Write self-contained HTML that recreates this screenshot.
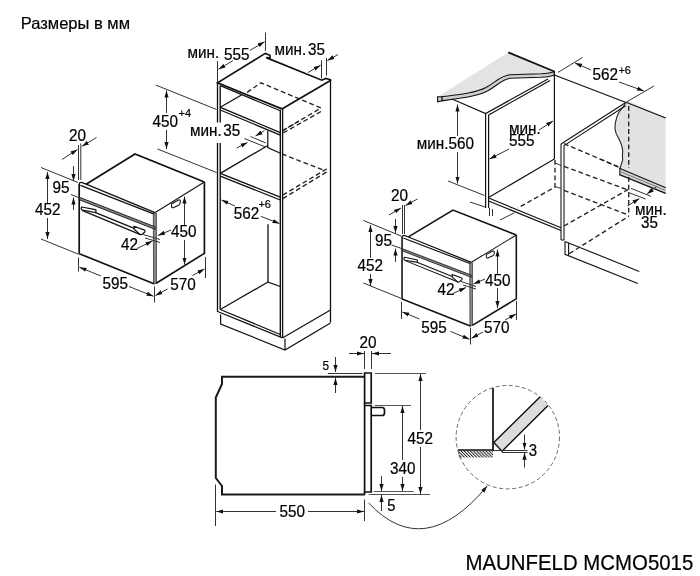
<!DOCTYPE html>
<html><head><meta charset="utf-8"><style>
html,body{margin:0;padding:0;background:#fff;width:700px;height:576px;overflow:hidden;}
svg{display:block;filter:grayscale(1) blur(0.3px);}
text{font-family:"Liberation Sans",sans-serif;fill:#000;font-size:15.3px;stroke:#000;stroke-width:0.2;}
.o{fill:none;stroke:#111;stroke-width:1.7;stroke-linejoin:miter;}
.t{fill:none;stroke:#1a1a1a;stroke-width:2;}
.m{stroke-width:1.2;}
.d{fill:none;stroke:#333;stroke-width:1;}
.g{fill:none;stroke:#555;stroke-width:1;}
.dash{fill:none;stroke:#222;stroke-width:1.35;stroke-dasharray:4.8 2.9;}
</style></head><body>
<svg width="700" height="576" viewBox="0 0 700 576">
<defs>
<marker id="a" viewBox="0 0 10 6" refX="10" refY="3" markerWidth="7" markerHeight="5.4" orient="auto" markerUnits="userSpaceOnUse"><path d="M0,0 L10,3 L0,6 z" fill="#111"/></marker>
<pattern id="hatch" patternUnits="userSpaceOnUse" width="2.2" height="2.2" patternTransform="rotate(-45)"><line x1="0.5" y1="0" x2="0.5" y2="2.2" stroke="#222" stroke-width="1"/></pattern>
<g id="oven">
  <!-- front-right glass edge strip -->
  <path d="M153.3,212.9 L156.4,213.2 L156.4,283.2 L153.6,284 Z" fill="#8a8a8a" stroke="#333" stroke-width="0.8"/>
  <!-- front face -->
  <path class="o" style="stroke-width:1.4" d="M155,212.6 L86.1,184.2 L81.5,182.4 Q79.3,182.2 79.2,184.5"/>
  <path class="o" d="M79.2,184 L79.2,253.7 L153.9,283.8"/>
  <path class="o" style="stroke-width:1.3" d="M80.5,185.3 L153.5,213.9"/>
  <!-- top -->
  <path class="o" d="M86.1,184.2 L135,154 L204.4,182"/>
  <path class="o" style="stroke-width:1.1" d="M204.4,182 L155.2,212.5"/>
  <!-- side -->
  <path class="o" d="M204.4,182 L204.4,253.4 L156.2,283.2"/>
  <!-- control panel bottom -->
  <path d="M79.2,197.2 L155,226.8 L155,229.3 L79.2,199.7 Z" fill="#888" stroke="#111" stroke-width="0.9"/>
  <!-- handle -->
  <path class="o" style="stroke-width:1.2" d="M81.8,207 L95.2,209.6 Q96.4,210 96,211 L95.6,212.6 L82.4,210.2 Q81,209.6 81.2,208.4 Z"/>
  <path class="o" style="stroke-width:1.2" d="M82,210.4 L140.5,234.6 M95.6,212.6 L134.2,228.4"/>
  <path class="o" style="stroke-width:1.2" d="M134,226.3 L144,229.9 Q145.5,230.6 144.8,232 L142,234.3 Q141,235 140,234.5 L134.2,229.2 Z"/>
  <!-- side recess -->
  <path class="o" style="stroke-width:1.1" d="M171.5,204 L178.5,200 Q180.5,199.5 180.3,201.5 L180,203.5 Q179.8,204.7 178.6,205.3 L173.2,207.7 Q171.8,208.1 171.6,206.9 Z"/>
</g>
</defs>

<!-- Title -->
<text transform="translate(20.8,29.3) scale(1,1.0)" style="font-size:16.5px">Размеры в мм</text>

<!-- ===== Oven A ===== -->
<use href="#oven"/>
<!-- dims A -->
<text transform="translate(69,141) scale(1,1.1)">20</text>
<path class="d" d="M78.5,145 L78.5,180 M80.8,143.5 L80.8,180"/>
<line class="d" x1="62" y1="159.5" x2="77.5" y2="149.5" marker-end="url(#a)"/>
<line class="d" x1="96.5" y1="137.5" x2="82" y2="146.3" marker-end="url(#a)"/>
<text transform="translate(52.5,192.5) scale(1,1.1)">95</text>
<line class="d" x1="73.5" y1="166" x2="73.5" y2="181" marker-end="url(#a)"/>
<line class="d" x1="73.5" y1="210" x2="73.5" y2="197.5" marker-end="url(#a)"/>
<path class="d" d="M41,167.5 L78,182.5 M71,194.5 L78.5,197.5"/>
<text transform="translate(35,215) scale(1,1.1)">452</text>
<line class="d" x1="47.5" y1="203" x2="47.5" y2="172" marker-end="url(#a)"/>
<line class="d" x1="47.5" y1="218" x2="47.5" y2="239" marker-end="url(#a)"/>
<path class="d" d="M41,239 L78,254"/>
<text transform="translate(102.5,288.7) scale(1,1.1)">595</text>
<line class="d" x1="101" y1="276" x2="79.5" y2="267.3" marker-end="url(#a)"/>
<line class="d" x1="129" y1="286.5" x2="153.5" y2="296.3" marker-end="url(#a)"/>
<path class="d" d="M78.5,257.5 L78.5,271.5 M154.5,286.5 L154.5,302.5"/>
<text transform="translate(170.3,290) scale(1,1.1)">570</text>
<line class="d" x1="167.5" y1="289" x2="155.5" y2="295.5" marker-end="url(#a)"/>
<line class="d" x1="192.5" y1="275.5" x2="204.5" y2="269" marker-end="url(#a)"/>
<path class="d" d="M205.5,257 L205.5,278"/>
<text transform="translate(171,237.3) scale(1,1.1)">450</text>
<line class="d" x1="184.5" y1="225" x2="184.5" y2="196.5" marker-end="url(#a)"/>
<line class="d" x1="184.5" y1="240" x2="184.5" y2="264.5" marker-end="url(#a)"/>
<line class="d" x1="171" y1="230" x2="158" y2="235.5" marker-end="url(#a)"/>
<text transform="translate(121,250) scale(1,1.1)">42</text>
<line class="d" x1="137" y1="248.5" x2="152.5" y2="241" marker-end="url(#a)"/>
<path class="d" d="M143,234.5 L160,239.5 M145,238 L160,242.5"/>

<!-- ===== Oven B ===== -->
<use href="#oven" transform="matrix(0.9127,0,0,0.8934,329.76,72.4)"/>

<!-- ===== Tall cabinet ===== -->
<path class="o" style="stroke-width:1.35" d="M217.5,82.8 L217.5,312 M220.2,85.4 L220.2,309.5"/>
<path class="o" d="M281.9,108.9 L217.6,82.8 L265.3,53.4 L270,55.3 L270,58.2 L266.2,57.6 L321.8,80.2 L325.8,78.4 L330.5,79.8 L330.5,80.5 L281.9,108.9"/>
<path class="o m" d="M220.3,85.6 L280.3,110.8"/>
<path class="o" style="stroke-width:1.35" d="M280.3,109.7 L280.3,337 M282.6,108.9 L282.6,338"/>
<path class="o" style="stroke-width:1.3" d="M330.5,80.3 L330.5,322.5"/>
<!-- upper shelf -->
<path class="o" style="stroke-width:1.3" d="M220.3,107.3 L280.3,132.6 M220.3,110 L280.3,135.2"/>
<path class="o" style="stroke-width:1.3" d="M220.3,107.3 L241.5,95"/>
<!-- upper back -->
<path class="o" style="stroke-width:1.2" d="M267.8,130.4 L267.8,147.5 L281,153.5"/>
<!-- niche top shelf -->
<path class="o" style="stroke-width:1.3" d="M220.3,173.4 L280.3,197.2 M220.3,176.2 L280.3,200"/>
<path class="o" style="stroke-width:1.3" d="M220.3,173.4 L267.8,145.5"/>
<!-- lower niche -->
<path class="o" style="stroke-width:1.3" d="M268,224.3 L268,282 L280.3,286.5"/>
<path class="o" style="stroke-width:1.3" d="M220.3,309.5 L268,282"/>
<path class="o" style="stroke-width:1.3" d="M217.6,311.5 L282.5,337.8 M220.3,309.5 L280.3,334.5"/>
<!-- plinth -->
<path class="o" style="stroke-width:1.2" d="M220.6,314.5 L220.6,324 L285,350 L330.5,323 M285,338.5 L285,350 M282.8,337.8 L330.5,310"/>
<!-- dashed hidden appliance -->
<path class="dash" d="M247.1,92.4 L261,82.8 L321,108 L282.8,130.6 M321,111.5 L282.8,133.2"/>
<path class="dash" d="M282,154 L324.4,170.4"/>
<path class="dash" d="M282.8,195 L328,168.2 M282.8,198.6 L328,171.2"/>
<path class="dash" d="M282.8,130.6 L299,121"/>
<!-- min35 middle ext lines -->
<path class="d" d="M250.5,136.5 L265.8,143 M244.3,138.5 L265.5,147"/>
<!-- dims -->
<text transform="translate(187.5,58) scale(1,1.1)">мин.</text>
<text transform="translate(224,60.2) scale(1,1.1)">555</text>
<path class="d" d="M217.5,61 L217.5,82 M265.5,32.5 L265.5,50.8"/>
<line class="d" x1="233" y1="60.6" x2="218.5" y2="69.3" marker-end="url(#a)"/>
<line class="d" x1="249.9" y1="50.4" x2="264.6" y2="41.7" marker-end="url(#a)"/>
<text transform="translate(274.5,54.5) scale(1,1.1)">мин.<tspan dx="1.8">35</tspan></text>
<path class="d" d="M321.5,60.2 L321.5,78.4 M326.5,58 L326.5,75.6"/>
<line class="d" x1="308" y1="72.5" x2="320.6" y2="65.3" marker-end="url(#a)"/>
<line class="d" x1="338" y1="54.5" x2="327.4" y2="60.6" marker-end="url(#a)"/>
<text transform="translate(152.5,127) scale(1,1.1)">450</text><text transform="translate(178.6,116.9) scale(1,0.95)" style="font-size:11px">+4</text>
<path class="d" d="M155.7,85 L216.5,109.5 M157.5,149 L216.5,172.5"/>
<line class="d" x1="166.5" y1="113" x2="166.5" y2="90.5" marker-end="url(#a)"/>
<line class="d" x1="166.5" y1="130" x2="166.5" y2="149" marker-end="url(#a)"/>
<rect x="189" y="122.5" width="53" height="20.5" fill="#fff"/>
<text transform="translate(190,136) scale(1,1.1)">мин.<tspan dx="1.5">35</tspan></text>
<line class="d" x1="236.7" y1="148" x2="247.5" y2="142.5" marker-end="url(#a)"/>
<line class="d" x1="264.5" y1="130.6" x2="255.5" y2="136" marker-end="url(#a)"/>
<text transform="translate(233.8,219) scale(1,1.1)">562</text><text transform="translate(258.4,208.2) scale(1,0.95)" style="font-size:11px">+6</text>
<line class="d" x1="235" y1="206" x2="221.5" y2="200" marker-end="url(#a)"/>
<line class="d" x1="261" y1="216.4" x2="279.5" y2="223.6" marker-end="url(#a)"/>

<!-- ===== Base cabinet niche (top right) ===== -->
<!-- countertop -->
<path d="M437.6,96.8 L508.2,52.4 L554.4,71.5 C552,72.6 548,73.4 541,73.8 L510,74.8 C500,76 496,82 486,87.5 C475,93 460,94.5 441.8,96.8 Z" fill="#e3e3e3"/>
<path d="M441.8,96.8 C460,94.5 475,93 486,87.5 C496,82 500,76 510,74.8 L541,73.8 C548,73.4 552,72.6 554.4,71.5 L554.4,75 C552,76.1 548,76.9 541,77.3 L510.5,78.3 C501.5,79.5 497.5,85.5 487.5,91 C476.5,96.5 461,98.3 442,100.8 Z" fill="#cfcfcf" stroke="#111" stroke-width="1.1"/>
<path d="M437.6,96.8 L441.8,96.8 L442,100.8 L437.6,101.8 Z" fill="#cfcfcf" stroke="#111" stroke-width="1.1"/>
<path class="o" d="M508.2,52.4 L554.4,71.5"/>
<!-- left cabinet -->
<path class="o m" d="M452,99 L485.6,113.5 L548,79 M488.6,115 L550,80.5"/>
<path class="o m" d="M485.6,113.5 L485.6,208 M488.6,115 L488.6,208"/>
<path class="d" d="M489.5,208 L489.5,216 M492.5,209 L492.5,216"/>
<path class="o m" d="M554.4,72 L554.4,159 L489,197.3"/>
<path class="o m" d="M488.6,198 L561,227.8 M488.6,201 L561,230.5"/>
<path class="o m" d="M554.4,75 L626,102.5 L665,118"/>
<path class="d" d="M500,220 L514,213"/>
<path class="dash" d="M555,160 L555,187 L518,208"/>
<!-- right cabinet side -->
<path d="M625.7,101.8 L624.9,104.6 L622,108.3 L619,112 L616.8,117.1 L615.3,123 L615,128.9 L616.1,133.4 L618.3,137.8 L620.5,142.2 L622,146.7 L622.7,151.1 L622.4,155.5 L622.7,159.9 L621.2,164.4 L620.3,167.5 L619.8,168.5 L665.7,187.9 L665.7,117.5 L630,101.5 Z" fill="#e2e2e2"/>
<path d="M619.4,168.3 L665.7,187.7 L665.7,193.4 L619.4,174.6 Z" fill="#d4d4d4"/>
<path class="d" style="stroke:#222;stroke-width:1.1" d="M625.7,101.8 L624.9,104.6 L622,108.3 L619,112 L616.8,117.1 L615.3,123 L615,128.9 L616.1,133.4 L618.3,137.8 L620.5,142.2 L622,146.7 L622.7,151.1 L622.4,155.5 L622.7,159.9 L621.2,164.4 L620.3,167.5 L619.8,168.5 L619.8,175"/>
<path class="o m" d="M619.4,168.3 L665.7,187.7 M619.4,174.6 L665.7,193.4"/>
<path class="d" style="stroke:#666;stroke-width:0.8" d="M620,171.5 L665.7,190.5"/>
<path class="o m" d="M626,102.3 L665.7,118"/>
<path class="o" style="stroke-width:1.05" d="M561,144 L625,103 M564,145.6 L625.5,105.8"/>
<path class="o" style="stroke-width:1.05" d="M561,144 L561,240 M564,145.6 L564,240 L561,240"/>
<path class="o" style="stroke-width:1.1" d="M565,241.4 L565,254.3 L637.9,283.6 M568.6,242.9 L568.6,255.7 M565,241.4 L568.6,242.9 L639.3,271.4"/>
<path class="dash" d="M628.7,106 L628.7,168 M628.7,177 L628.7,216.3"/>
<path class="dash" d="M564,143.7 L620,167.5 M564,166.4 L628.7,190.3 M564,190.3 L628.7,215.2 M564,226 L628.7,189.2 M569.3,253.6 L628.7,216.3"/>
<path class="dash" d="M600,159 L619.4,167.5"/>
<path class="d" d="M555,163 L561,165.4 M555,186.5 L561,188.5"/>
<!-- dims -->
<text transform="translate(416.8,148.7) scale(1,1.1)">мин.560</text>
<line class="d" x1="457.5" y1="136" x2="457.5" y2="104.5" marker-end="url(#a)"/>
<line class="d" x1="457.5" y1="152" x2="457.5" y2="183.5" marker-end="url(#a)"/>
<path class="d" d="M448,181 L484.5,195.5 M470,202 L485,207"/>
<text transform="translate(509,134) scale(1,1.1)">мин.</text>
<text transform="translate(509,146.4) scale(1,1.1)">555</text>
<line class="d" x1="539" y1="130" x2="553" y2="121" marker-end="url(#a)"/>
<line class="d" x1="509" y1="149" x2="489.5" y2="159" marker-end="url(#a)"/>
<text transform="translate(592.4,79.5) scale(1,1.1)">562</text><text transform="translate(618.4,74) scale(1,0.95)" style="font-size:11px">+6</text>
<path class="d" d="M558,72.4 L582.5,57.5 M626.5,102 L654,86"/>
<line class="d" x1="591" y1="70" x2="575" y2="63" marker-end="url(#a)"/>
<line class="d" x1="619" y1="82" x2="644" y2="91" marker-end="url(#a)"/>
<text transform="translate(635,215) scale(1,1.1)">мин.</text>
<text transform="translate(641,227.5) scale(1,1.1)">35</text>
<path class="d" d="M630.9,188.3 L650.9,196.3 M628,192.3 L645.7,199"/>
<line class="d" x1="656.6" y1="186.6" x2="647" y2="194" marker-end="url(#a)"/>
<line class="d" x1="627.4" y1="206" x2="639.4" y2="198.6" marker-end="url(#a)"/>

<!-- dims oven B -->
<text transform="translate(391,201) scale(1,1.1)">20</text>
<path class="d" d="M402.5,205 L402.5,234 M404.5,205 L404.5,234"/>
<line class="d" x1="389" y1="215" x2="401" y2="208" marker-end="url(#a)"/>
<line class="d" x1="417.5" y1="199" x2="405.5" y2="205.5" marker-end="url(#a)"/>
<text transform="translate(375,246) scale(1,1.1)">95</text>
<line class="d" x1="395.5" y1="219" x2="395.5" y2="233" marker-end="url(#a)"/>
<line class="d" x1="395.5" y1="262" x2="395.5" y2="248.6" marker-end="url(#a)"/>
<path class="d" d="M363.3,220.4 L401,236 M391.5,245 L401.5,248.5"/>
<text transform="translate(357.5,271) scale(1,1.1)">452</text>
<line class="d" x1="370.5" y1="258" x2="370.5" y2="225" marker-end="url(#a)"/>
<line class="d" x1="370.5" y1="274" x2="370.5" y2="286" marker-end="url(#a)"/>
<path class="d" d="M363.3,283 L401.5,298.5"/>
<text transform="translate(421.3,332.5) scale(1,1.1)">595</text>
<line class="d" x1="419.5" y1="319" x2="402.3" y2="312" marker-end="url(#a)"/>
<line class="d" x1="450.3" y1="331.3" x2="469.5" y2="339.3" marker-end="url(#a)"/>
<path class="d" d="M401.5,302 L401.5,319 M470.5,327.5 L470.5,344.5"/>
<text transform="translate(484,332.5) scale(1,1.1)">570</text>
<line class="d" x1="483" y1="332" x2="471.5" y2="338.3" marker-end="url(#a)"/>
<line class="d" x1="505" y1="320" x2="516" y2="314" marker-end="url(#a)"/>
<path class="d" d="M516.5,301 L516.5,320"/>
<text transform="translate(485,286) scale(1,1.1)">450</text>
<line class="d" x1="497.5" y1="275" x2="497.5" y2="249.5" marker-end="url(#a)"/>
<line class="d" x1="497.5" y1="288" x2="497.5" y2="308" marker-end="url(#a)"/>
<line class="d" x1="485" y1="279" x2="473.5" y2="284" marker-end="url(#a)"/>
<text transform="translate(437.5,295) scale(1,1.1)">42</text>
<line class="d" x1="452" y1="294" x2="466" y2="287.5" marker-end="url(#a)"/>
<path class="d" d="M461,281.5 L476,286.5 M463,285 L476,289"/>

<!-- ===== Side view ===== -->
<path class="t" d="M365,376.8 L222,376.8 L222,384 L215.8,397.5 L215.8,478 L222,486 L222,494.5 L365,494.5"/>
<path class="o" d="M364.6,373 L371.2,373 L371.2,403 L364.6,403 Z"/>
<path class="o" d="M364.6,403 L364.6,405.5 L368,405.5 M364.6,405.5 L364.6,492 L371.2,492 L371.2,405.5 L368,405.5"/>
<path class="o" d="M364.6,492 L364.6,494.5"/>
<path class="o" d="M371.2,407.5 L382,407.5 Q384.5,407.5 384.5,410 L384.5,413 Q384.5,415.5 382,415.5 L371.2,415.5"/>
<!-- dims side -->
<text transform="translate(322.4,369.6) scale(1,1.1)" style="font-size:11.8px">5</text>
<line class="d" x1="335.5" y1="357" x2="335.5" y2="372" marker-end="url(#a)"/>
<line class="d" x1="335.5" y1="393" x2="335.5" y2="378" marker-end="url(#a)"/>
<path class="d" d="M328,373.5 L362.5,373.5"/>
<text transform="translate(359.5,347.5) scale(1,1.1)">20</text>
<line class="d" x1="349" y1="353.5" x2="364" y2="353.5" marker-end="url(#a)"/>
<line class="d" x1="391" y1="353.5" x2="372" y2="353.5" marker-end="url(#a)"/>
<path class="d" d="M364.5,351 L364.5,369 M371.5,351 L371.5,369"/>
<path class="g" d="M375,373.5 L426,373.5 M375,405.5 L411,405.5"/>
<text transform="translate(407.5,444) scale(1,1.1)">452</text>
<line class="d" x1="420.5" y1="430" x2="420.5" y2="374" marker-end="url(#a)"/>
<line class="d" x1="420.5" y1="447" x2="420.5" y2="494" marker-end="url(#a)"/>
<text transform="translate(390,473.5) scale(1,1.1)">340</text>
<line class="d" x1="402.5" y1="460" x2="402.5" y2="406" marker-end="url(#a)"/>
<line class="d" x1="402.5" y1="477" x2="402.5" y2="491" marker-end="url(#a)"/>
<path class="g" d="M373.7,491.5 L413.7,491.5 M368.7,494.5 L430,494.5"/>
<text transform="translate(387.2,510.8) scale(1,1.1)" style="font-size:14.8px">5</text>
<line class="d" x1="381.5" y1="476" x2="381.5" y2="491" marker-end="url(#a)"/>
<line class="d" x1="381.5" y1="511" x2="381.5" y2="495" marker-end="url(#a)"/>
<text transform="translate(279.5,517) scale(1,1.1)">550</text>
<line class="d" x1="276" y1="511.5" x2="216.3" y2="511.5" marker-end="url(#a)"/>
<line class="d" x1="308" y1="511.5" x2="364" y2="511.5" marker-end="url(#a)"/>
<path class="d" d="M215.5,484.5 L215.5,526 M364.5,499.5 L364.5,521"/>
<path class="d" d="M368.7,503 Q424,562 487.2,486" marker-end="url(#a)"/>

<!-- ===== Detail circle ===== -->
<circle cx="507.8" cy="437.2" r="51.7" fill="none" stroke="#666" stroke-width="1" stroke-dasharray="4 2.6"/>
<rect x="458.6" y="450.5" width="34.4" height="7" fill="url(#hatch)"/>
<path class="o" d="M493,388 L493,450 L458,450"/>
<path d="M493.8,442.5 L540,397 L548,405.5 L502,451.2 Z" fill="#ddd"/>
<path d="M540,397 L493.8,442.5 L502,451.2 L548,405.5" fill="none" stroke="#111" stroke-width="1.4"/>
<path class="d" d="M493,450.5 L527.5,450.5 M502,452.5 L527.5,452.5"/>
<line class="d" x1="524.5" y1="434.5" x2="524.5" y2="449.5" marker-end="url(#a)"/>
<line class="d" x1="524.5" y1="467.5" x2="524.5" y2="452.8" marker-end="url(#a)"/>
<text transform="translate(528.8,456) scale(1,1.1)" style="font-size:15px">3</text>

<!-- bottom label -->
<text transform="translate(465.5,570) scale(1,1.1)" style="font-size:20.4px">MAUNFELD MCMO5015</text>

</svg>
</body></html>
